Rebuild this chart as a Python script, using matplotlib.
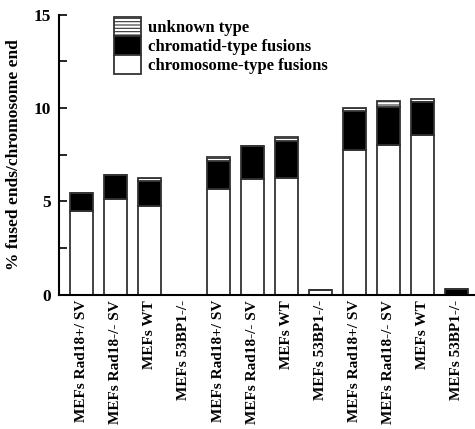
import matplotlib
matplotlib.use("Agg")
import matplotlib.pyplot as plt
import numpy as np

categories = ["MEFs Rad18+/ SV", "MEFs Rad18-/- SV", "MEFs WT", "MEFs 53BP1-/-",
              "MEFs Rad18+/ SV", "MEFs Rad18-/- SV", "MEFs WT", "MEFs 53BP1-/-",
              "MEFs Rad18+/ SV", "MEFs Rad18-/- SV", "MEFs WT", "MEFs 53BP1-/-"]
chromosome_type = [4.47, 5.13, 4.76, 0.0, 5.65, 6.18, 6.27, 0.25, 7.73, 8.0, 8.56, 0.0]
chromatid_type = [0.98, 1.27, 1.30, 0.0, 1.53, 1.77, 1.93, 0.0, 2.13, 2.03, 1.78, 0.27]
unknown_type = [0.0, 0.0, 0.16, 0.0, 0.20, 0.0, 0.25, 0.0, 0.16, 0.32, 0.14, 0.0]
y_ticks = [0, 5, 10, 15]

plt.rcParams['font.family'] = ['Liberation Serif', 'DejaVu Serif']
plt.rcParams['font.weight'] = 'bold'
plt.rcParams['hatch.linewidth'] = 0.8

fig = plt.figure(figsize=(4.75, 4.29), dpi=100)
ax = fig.add_axes([0.124, 0.3135, 0.876, 0.6525])

x = np.arange(len(categories))
w = 0.67
ec = '#333333'
chrom = np.array(chromosome_type)
chtd = np.array(chromatid_type)
unk = np.array(unknown_type)

b1 = ax.bar(x, chrom, w, color='white', edgecolor=ec, linewidth=1.3,
            label='chromosome-type fusions')
b2 = ax.bar(x, chtd, w, bottom=chrom, color='black', edgecolor=ec, linewidth=1.3,
            label='chromatid-type fusions')
b3 = ax.bar(x, unk, w, bottom=chrom + chtd, color='white', edgecolor=ec, linewidth=1.3,
            hatch='-----', label='unknown type')

ax.set_xlim(-0.665, 11.53)
ax.set_ylim(0, 15)
ax.set_yticks(y_ticks)
ax.set_yticks([2.5, 7.5, 12.5], minor=True)
ax.tick_params(axis='y', which='both', direction='in', length=6, width=1.2,
               labelsize=12.5, pad=6)
ax.set_xticks(x)
ax.set_xticklabels(categories, rotation=90, fontsize=11, fontweight='bold')
ax.tick_params(axis='x', length=0, pad=4)
for lab in ax.get_yticklabels():
    lab.set_fontweight('bold')

ax.spines['top'].set_visible(False)
ax.spines['right'].set_visible(False)
ax.spines['left'].set_linewidth(1.5)
ax.spines['bottom'].set_linewidth(1.5)

ax.set_ylabel('% fused ends/chromosome end', fontsize=12.5, fontweight='bold', labelpad=8)

leg = ax.legend(handles=[b3, b2, b1], loc='upper left', bbox_to_anchor=(0.112, 1.02),
                frameon=False, labelspacing=0.0, handlelength=1.65,
                handleheight=1.35, handletextpad=0.4, borderpad=0.0,
                prop={'weight': 'bold', 'size': 12})

fig.savefig('out.png', dpi=100)
